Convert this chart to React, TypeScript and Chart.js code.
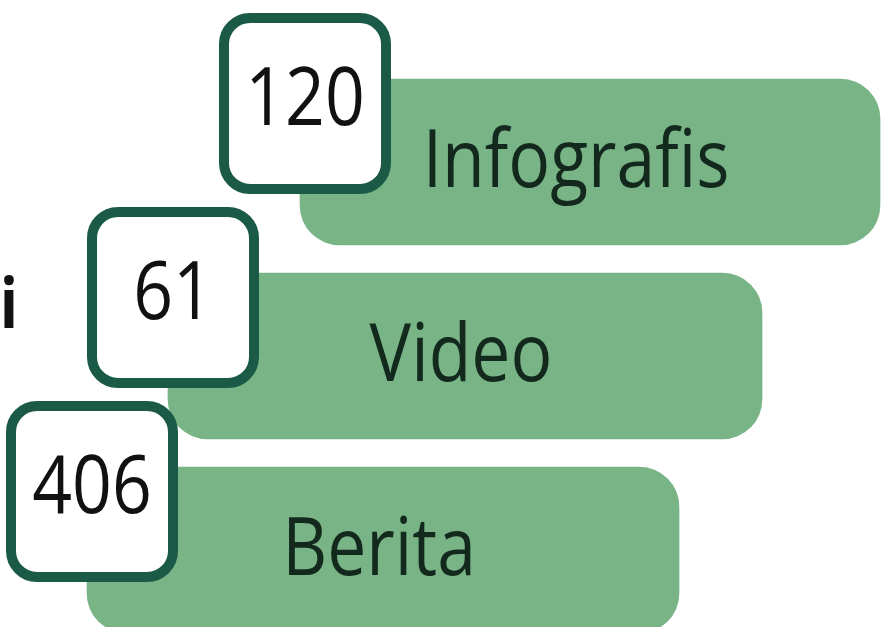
import React, { useEffect, useRef } from "react";
import { Chart, registerables } from "chart.js";

Chart.register(...registerables);

// ---- data ----
const categories = ["Infografis", "Video", "Berita"];
const counts = [120, 61, 406];
// floating bar extents (horizontal axis units, 0..882)
const barStart = [300, 168, 87];
const barEnd = [880, 762, 679];
// cropped text on the left edge
const sideText = "si";

const BAR_COLOR = "#78b486";
const BOX_BORDER = "#1c5a48";
const TEXT_COLOR = "#13291d";
const FONT = "'Open Sans', 'Noto Sans', sans-serif";
const SQUEEZE = 0.86;

function drawSqueezed(ctx: CanvasRenderingContext2D, text: string, x: number, y: number, align: CanvasTextAlign) {
  ctx.save();
  ctx.translate(x, y);
  ctx.scale(SQUEEZE, 1);
  ctx.textAlign = align;
  ctx.textBaseline = "alphabetic";
  ctx.fillText(text, 0, 0);
  ctx.restore();
}

const overlayPlugin = {
  id: "overlay",
  afterDatasetsDraw(chart: any) {
    const ctx: CanvasRenderingContext2D = chart.ctx;
    const meta = chart.getDatasetMeta(0);
    ctx.save();
    // labels inside bars
    meta.data.forEach((el: any, i: number) => {
      const left = Math.min(el.x, el.base);
      const right = Math.max(el.x, el.base);
      const cy = el.y;
      ctx.fillStyle = TEXT_COLOR;
      ctx.font = `400 81px ${FONT}`;
      const shift = i === 0 ? -14 : -4;
      drawSqueezed(ctx, categories[i], (left + right) / 2 + shift, cy + 25, "center");
    });
    // number boxes
    meta.data.forEach((el: any, i: number) => {
      const left = Math.min(el.x, el.base);
      const top = el.y - el.height / 2;
      const bx = left - 81;
      const by = top - 66;
      const bw = 172;
      const bh = 181;
      const lw = 10;
      ctx.beginPath();
      (ctx as any).roundRect(bx + lw / 2, by + lw / 2, bw - lw, bh - lw, 26);
      ctx.fillStyle = "#ffffff";
      ctx.fill();
      ctx.lineWidth = lw;
      ctx.strokeStyle = BOX_BORDER;
      ctx.stroke();
      ctx.fillStyle = "#111111";
      ctx.font = `400 81px ${FONT}`;
      drawSqueezed(ctx, String(counts[i]), bx + bw / 2, by + bh / 2 + 21, "center");
    });
    // cropped side text
    ctx.fillStyle = "#111111";
    ctx.font = `700 70px ${FONT}`;
    drawSqueezed(ctx, sideText, 18, 328, "right");
    ctx.restore();
  },
};

export default function App() {
  const ref = useRef<HTMLCanvasElement | null>(null);

  useEffect(() => {
    document.body.style.overflow = "hidden";
    const canvas = ref.current;
    if (!canvas) return;
    const chart = new Chart(canvas, {
      type: "bar",
      data: {
        labels: categories,
        datasets: [
          {
            data: categories.map((_, i) => [barStart[i], barEnd[i]]) as any,
            backgroundColor: BAR_COLOR,
            borderWidth: 0,
            borderRadius: 40,
            borderSkipped: false,
            barThickness: 166,
          },
        ],
      },
      options: {
        indexAxis: "y",
        responsive: false,
        animation: false,
        layout: { padding: { top: 65, bottom: 0, left: 0, right: 0 } },
        plugins: {
          legend: { display: false },
          tooltip: { enabled: false },
          title: { display: false },
        },
        scales: {
          x: { type: "linear", min: 0, max: 882, display: false },
          y: { type: "category", display: false, offset: true },
        },
      },
      plugins: [overlayPlugin],
    });
    return () => chart.destroy();
  }, []);

  return (
    <div style={{ position: "fixed", left: 0, top: 0, width: 882, height: 647, background: "#ffffff" }}>
      <canvas ref={ref} width={882} height={647} style={{ display: "block" }} />
    </div>
  );
}
